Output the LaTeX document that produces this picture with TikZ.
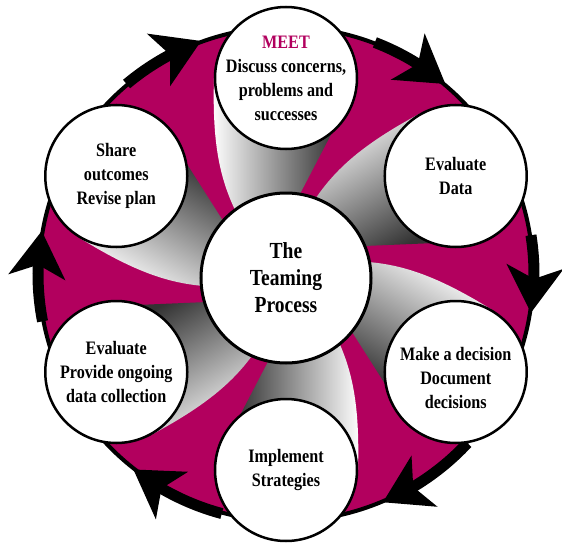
\documentclass[tikz,border=0pt]{standalone}
\usepackage{fontspec}
\setmainfont{Liberation Serif}[FakeStretch=0.85]
\usetikzlibrary{arrows.meta,bending}
\definecolor{teamred}{RGB}{178,0,94}

\begin{document}
\begin{tikzpicture}[x=1pt,y=1pt,
    sat/.style={circle,draw,line width=2.5pt,fill=white,minimum size=142pt,inner sep=0pt},
    hub/.style={circle,draw,line width=3pt,fill=white,minimum size=170pt,inner sep=0pt},
    txt/.style={align=center,font=\bfseries\fontsize{19}{24}\selectfont},
    blade/.style={left color=white,right color=black!80},
    arrowband/.style={line width=11pt,-{Stealth[length=46pt,width=56pt,inset=12pt]}}]
    \useasboundingbox (-286,-270) rectangle (276,274);

    % disc and rim
    \fill[teamred] (0,0) circle (246);
    \draw[line width=4pt] (0,0) circle (247);

    % blades
    \foreach \r [evaluate=\r as \sa using 90+\r] in {0,-60,...,-300}
        \path[blade,shading angle=\sa,rotate=\r] (0,196) -- (-72,196) .. controls (-74,130) and (-66,95) .. (-50,62)
            -- (-38,40) -- (3,59) -- (50,149) -- cycle;

    % arrows round the rim
    \foreach \a/\b in {69/50,9/-9,-43/-67,255/232,191/170,130/110}
        \draw[arrowband] (\a:248) arc[start angle=\a,end angle=\b,radius=248];

    \node[sat] (meet) at (90:196) {};
    \node[sat] (evaldata) at (30:196) {};
    \node[sat] (decide) at (-30:196) {};
    \node[sat] (implement) at (-90:196) {};
    \node[sat] (evalprov) at (-150:196) {};
    \node[sat] (share) at (150:196) {};
    \node[hub] (hub) at (0,-4) {};

    \node[txt] at (meet) {\textcolor{teamred}{MEET}\\Discuss concerns,\\problems and\\successes};
    \node[txt] at (evaldata) {Evaluate\\Data};
    \node[txt] at ([yshift=-6pt]decide.center) {Make a decision\\Document\\decisions};
    \node[txt] at (implement) {Implement\\Strategies};
    \node[txt] at (evalprov) {Evaluate\\Provide ongoing\\data collection};
    \node[txt] at (share) {Share\\outcomes\\Revise plan};
    \node[txt,font=\bfseries\fontsize{23}{27}\selectfont] at (hub) {The\\Teaming\\Process};
\end{tikzpicture}
\end{document}
